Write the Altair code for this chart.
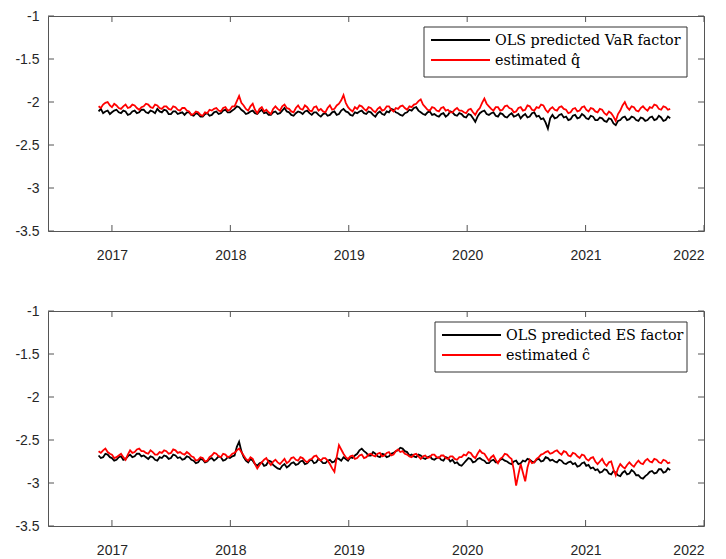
import altair as alt
import pandas as pd

# ---------------- data (weekly) ----------------
START = "2016-11-20"
STEP_DAYS = 7

var_ols = [
    -2.11, -2.08, -2.13, -2.11, -2.10, -2.14, -2.12, -2.10, -2.09, -2.12, -2.13, -2.10, -2.11, -2.15, -2.14, -2.11, -2.10, -2.13, -2.12, -2.09,
    -2.09, -2.12, -2.13, -2.10, -2.11, -2.13, -2.08, -2.11, -2.12, -2.09, -2.10, -2.14, -2.14, -2.11, -2.11, -2.14, -2.13, -2.12, -2.15, -2.12,
    -2.12, -2.15, -2.16, -2.13, -2.14, -2.17, -2.17, -2.14, -2.13, -2.16, -2.15, -2.12, -2.11, -2.14, -2.13, -2.10, -2.09, -2.12, -2.12, -2.10,
    -2.08, -2.05, -2.06, -2.09, -2.11, -2.14, -2.13, -2.11, -2.10, -2.13, -2.14, -2.11, -2.09, -2.13, -2.12, -2.15, -2.15, -2.12, -2.11, -2.14,
    -2.13, -2.10, -2.07, -2.11, -2.12, -2.15, -2.16, -2.13, -2.11, -2.12, -2.14, -2.11, -2.10, -2.13, -2.15, -2.12, -2.12, -2.15, -2.17, -2.14,
    -2.13, -2.16, -2.15, -2.12, -2.11, -2.15, -2.14, -2.10, -2.08, -2.11, -2.12, -2.15, -2.16, -2.12, -2.13, -2.11, -2.10, -2.13, -2.14, -2.11,
    -2.12, -2.15, -2.17, -2.13, -2.11, -2.14, -2.15, -2.11, -2.12, -2.08, -2.09, -2.12, -2.13, -2.15, -2.16, -2.13, -2.12, -2.09, -2.10, -2.07,
    -2.06, -2.10, -2.12, -2.14, -2.15, -2.12, -2.11, -2.15, -2.14, -2.16, -2.17, -2.14, -2.13, -2.17, -2.15, -2.11, -2.12, -2.15, -2.16, -2.13,
    -2.14, -2.17, -2.18, -2.14, -2.15, -2.19, -2.23, -2.17, -2.13, -2.11, -2.10, -2.14, -2.15, -2.13, -2.12, -2.16, -2.17, -2.13, -2.14, -2.17,
    -2.18, -2.15, -2.13, -2.17, -2.16, -2.14, -2.19, -2.16, -2.14, -2.18, -2.17, -2.13, -2.12, -2.17, -2.16, -2.20, -2.19, -2.24, -2.31, -2.19,
    -2.15, -2.19, -2.18, -2.15, -2.14, -2.18, -2.17, -2.21, -2.20, -2.16, -2.15, -2.19, -2.18, -2.14, -2.16, -2.19, -2.20, -2.16, -2.17, -2.21,
    -2.21, -2.18, -2.19, -2.22, -2.23, -2.19, -2.20, -2.25, -2.27, -2.22, -2.21, -2.18, -2.17, -2.21, -2.20, -2.17, -2.18, -2.21, -2.22, -2.18,
    -2.19, -2.22, -2.21, -2.18, -2.17, -2.21, -2.20, -2.16, -2.18, -2.22, -2.21, -2.17, -2.19,
]

q_hat = [
    -2.05, -2.07, -2.03, -2.01, -2.00, -2.04, -2.06, -2.02, -2.04, -2.07, -2.08, -2.05, -2.03, -2.07, -2.06, -2.03, -2.04, -2.07, -2.09, -2.06,
    -2.05, -2.02, -2.03, -2.06, -2.07, -2.03, -2.04, -2.07, -2.08, -2.05, -2.05, -2.08, -2.09, -2.05, -2.06, -2.09, -2.10, -2.07, -2.07, -2.10,
    -2.11, -2.15, -2.14, -2.11, -2.12, -2.15, -2.16, -2.12, -2.13, -2.09, -2.10, -2.08, -2.07, -2.10, -2.11, -2.07, -2.06, -2.10, -2.09, -2.05,
    -2.05, -1.99, -1.93, -2.01, -2.04, -2.08, -2.10, -2.05, -2.02, -2.09, -2.13, -2.08, -2.06, -2.11, -2.09, -2.12, -2.14, -2.08, -2.05, -2.08,
    -2.10, -2.05, -2.03, -2.07, -2.08, -2.11, -2.12, -2.07, -2.04, -2.08, -2.09, -2.04, -2.06, -2.10, -2.11, -2.06, -2.05, -2.10, -2.08, -2.11,
    -2.12, -2.07, -2.04, -2.09, -2.08, -2.04, -2.02, -1.98, -1.92, -2.01, -2.06, -2.09, -2.11, -2.06, -2.08, -2.04, -2.05, -2.08, -2.10, -2.06,
    -2.07, -2.10, -2.12, -2.08, -2.06, -2.10, -2.09, -2.05, -2.05, -2.09, -2.11, -2.07, -2.08, -2.05, -2.04, -2.07, -2.09, -2.05, -2.06, -2.03,
    -2.02, -1.99, -1.97, -2.03, -2.06, -2.09, -2.10, -2.06, -2.07, -2.10, -2.11, -2.07, -2.06, -2.10, -2.09, -2.12, -2.12, -2.09, -2.07, -2.10,
    -2.10, -2.12, -2.13, -2.09, -2.08, -2.12, -2.15, -2.10, -2.07, -2.01, -1.96, -2.02, -2.05, -2.08, -2.10, -2.06, -2.06, -2.10, -2.09, -2.05,
    -2.04, -2.07, -2.08, -2.12, -2.11, -2.07, -2.06, -2.10, -2.09, -2.04, -2.05, -2.09, -2.10, -2.06, -2.07, -2.03, -2.04, -2.09, -2.12, -2.08,
    -2.06, -2.09, -2.10, -2.06, -2.05, -2.08, -2.09, -2.13, -2.12, -2.08, -2.07, -2.11, -2.10, -2.06, -2.05, -2.09, -2.11, -2.07, -2.08, -2.11,
    -2.12, -2.08, -2.09, -2.13, -2.15, -2.11, -2.13, -2.17, -2.22, -2.14, -2.10, -2.04, -2.00, -2.06, -2.09, -2.05, -2.06, -2.10, -2.11, -2.07,
    -2.05, -2.08, -2.10, -2.06, -2.07, -2.03, -2.04, -2.08, -2.09, -2.05, -2.06, -2.09, -2.08,
]

es_ols = [
    -2.68, -2.71, -2.70, -2.66, -2.67, -2.70, -2.71, -2.74, -2.73, -2.70, -2.69, -2.73, -2.72, -2.69, -2.67, -2.70, -2.69, -2.66, -2.66, -2.69,
    -2.68, -2.70, -2.72, -2.69, -2.70, -2.73, -2.74, -2.70, -2.71, -2.68, -2.69, -2.72, -2.71, -2.67, -2.68, -2.71, -2.70, -2.73, -2.72, -2.69,
    -2.70, -2.73, -2.74, -2.77, -2.76, -2.72, -2.73, -2.76, -2.75, -2.72, -2.71, -2.74, -2.72, -2.69, -2.70, -2.74, -2.73, -2.70, -2.71, -2.69,
    -2.68, -2.58, -2.52, -2.63, -2.70, -2.74, -2.76, -2.72, -2.74, -2.78, -2.80, -2.77, -2.76, -2.80, -2.79, -2.74, -2.75, -2.79, -2.81, -2.83,
    -2.84, -2.80, -2.78, -2.82, -2.80, -2.77, -2.76, -2.79, -2.78, -2.75, -2.74, -2.78, -2.77, -2.74, -2.73, -2.77, -2.76, -2.72, -2.74, -2.77,
    -2.77, -2.74, -2.73, -2.76, -2.75, -2.71, -2.72, -2.74, -2.70, -2.72, -2.74, -2.70, -2.71, -2.68, -2.66, -2.62, -2.60, -2.63, -2.65, -2.68,
    -2.68, -2.64, -2.66, -2.69, -2.70, -2.66, -2.67, -2.70, -2.69, -2.66, -2.65, -2.63, -2.62, -2.59, -2.60, -2.63, -2.64, -2.68, -2.67, -2.69,
    -2.70, -2.67, -2.68, -2.71, -2.72, -2.70, -2.69, -2.72, -2.73, -2.71, -2.70, -2.73, -2.74, -2.70, -2.71, -2.75, -2.73, -2.77, -2.76, -2.79,
    -2.80, -2.77, -2.74, -2.71, -2.72, -2.76, -2.75, -2.72, -2.71, -2.73, -2.74, -2.77, -2.77, -2.74, -2.73, -2.76, -2.76, -2.73, -2.72, -2.74,
    -2.75, -2.77, -2.78, -2.75, -2.74, -2.78, -2.77, -2.74, -2.75, -2.72, -2.73, -2.75, -2.76, -2.73, -2.72, -2.75, -2.74, -2.70, -2.71, -2.74,
    -2.73, -2.75, -2.76, -2.73, -2.74, -2.77, -2.78, -2.76, -2.75, -2.78, -2.77, -2.81, -2.80, -2.77, -2.76, -2.80, -2.79, -2.83, -2.82, -2.85,
    -2.84, -2.88, -2.87, -2.84, -2.85, -2.89, -2.90, -2.86, -2.88, -2.91, -2.92, -2.88, -2.86, -2.90, -2.89, -2.85, -2.87, -2.91, -2.91, -2.94,
    -2.95, -2.92, -2.90, -2.87, -2.86, -2.89, -2.88, -2.84, -2.84, -2.88, -2.87, -2.83, -2.85,
]

c_hat = [
    -2.63, -2.65, -2.62, -2.60, -2.64, -2.66, -2.67, -2.71, -2.70, -2.68, -2.66, -2.70, -2.73, -2.67, -2.62, -2.65, -2.64, -2.61, -2.60, -2.63,
    -2.63, -2.65, -2.66, -2.62, -2.64, -2.67, -2.67, -2.64, -2.65, -2.62, -2.63, -2.66, -2.65, -2.61, -2.62, -2.65, -2.64, -2.66, -2.67, -2.64,
    -2.66, -2.69, -2.70, -2.74, -2.73, -2.70, -2.71, -2.75, -2.74, -2.70, -2.68, -2.65, -2.66, -2.69, -2.70, -2.66, -2.67, -2.70, -2.69, -2.66,
    -2.65, -2.62, -2.60, -2.64, -2.68, -2.72, -2.74, -2.70, -2.72, -2.78, -2.83, -2.79, -2.76, -2.73, -2.71, -2.76, -2.79, -2.75, -2.73, -2.76,
    -2.78, -2.75, -2.72, -2.77, -2.75, -2.71, -2.70, -2.73, -2.74, -2.70, -2.71, -2.74, -2.76, -2.73, -2.72, -2.69, -2.68, -2.72, -2.74, -2.71,
    -2.71, -2.74, -2.78, -2.83, -2.87, -2.70, -2.56, -2.61, -2.66, -2.70, -2.72, -2.69, -2.68, -2.72, -2.71, -2.68, -2.67, -2.71, -2.70, -2.67,
    -2.66, -2.68, -2.69, -2.66, -2.65, -2.69, -2.68, -2.65, -2.64, -2.68, -2.67, -2.63, -2.61, -2.64, -2.63, -2.66, -2.67, -2.69, -2.70, -2.67,
    -2.66, -2.69, -2.72, -2.69, -2.68, -2.71, -2.70, -2.67, -2.67, -2.70, -2.71, -2.68, -2.68, -2.71, -2.72, -2.69, -2.69, -2.72, -2.73, -2.70,
    -2.70, -2.67, -2.68, -2.64, -2.65, -2.69, -2.71, -2.66, -2.62, -2.65, -2.66, -2.70, -2.74, -2.70, -2.68, -2.73, -2.77, -2.72, -2.70, -2.66,
    -2.67, -2.70, -2.72, -2.85, -3.03, -2.90, -2.78, -2.88, -2.98, -2.82, -2.73, -2.77, -2.76, -2.72, -2.70, -2.67, -2.66, -2.64, -2.63, -2.66,
    -2.65, -2.63, -2.62, -2.65, -2.67, -2.63, -2.64, -2.68, -2.69, -2.65, -2.66, -2.69, -2.71, -2.67, -2.68, -2.72, -2.74, -2.71, -2.70, -2.75,
    -2.78, -2.75, -2.72, -2.77, -2.80, -2.76, -2.75, -2.84, -2.91, -2.83, -2.78, -2.81, -2.83, -2.79, -2.76, -2.79, -2.81, -2.77, -2.74, -2.77,
    -2.78, -2.74, -2.72, -2.75, -2.76, -2.72, -2.73, -2.76, -2.77, -2.73, -2.74, -2.77, -2.76,
]

x_ticks = [2017, 2018, 2019, 2020, 2021, 2022]
y_ticks = [-3.5, -3, -2.5, -2, -1.5, -1]
x_domain = [2016.46, 2022.0]
y_domain = [-3.5, -1.0]

labels_top = ["OLS predicted VaR factor", "estimated q\u0302"]
labels_bot = ["OLS predicted ES factor", "estimated \u0109"]
colors = ["#000000", "#ff0000"]

# ---------------- build ----------------
dates = pd.date_range(START, periods=len(var_ols), freq=f"{STEP_DAYS}D")
t = [round(d.year + (d.dayofyear - 1) / 365.25, 5) for d in dates]

W, H = 656, 215
AX = "#555555"
TXT = "#262626"
TICK = 6


def legend_layers(labels, box_left):
    # legend drawn inside the plot area (top-right), like MATLAB's
    rows = [24, 44]
    line_l = box_left + 7
    line_r = line_l + 59
    text_x = line_r + 5
    lyr = [
        alt.Chart(pd.DataFrame({"k": [0]})).mark_rect(
            fill="#ffffff", stroke="#333333", strokeWidth=1).encode(
            x=alt.value(box_left), x2=alt.value(W - 17),
            y=alt.value(11), y2=alt.value(61)),
    ]
    for lab, col, ry in zip(labels, colors, rows):
        d = pd.DataFrame({"label": [lab]})
        lyr.append(alt.Chart(d).mark_rule(color=col, strokeWidth=2).encode(
            x=alt.value(line_l), x2=alt.value(line_r), y=alt.value(ry)))
        lyr.append(alt.Chart(d).mark_text(
            align="left", baseline="middle", font="DejaVu Serif",
            fontSize=14.3, color="#000000").encode(
            x=alt.value(text_x), y=alt.value(ry + 1), text="label:N"))
    return lyr


def panel(black, red, labels, box_left):
    n = len(black)
    df = pd.DataFrame({
        "x": t + t,
        "y": black + red,
        "series": [labels[0]] * n + [labels[1]] * n,
    })
    xenc = alt.X(
        "x:Q",
        scale=alt.Scale(domain=x_domain, nice=False, zero=False),
        axis=alt.Axis(values=x_ticks, format="d", title=None, domain=False,
                      ticks=False, grid=False, labelPadding=17,
                      labelFont="Liberation Sans", labelFontSize=14,
                      labelColor=TXT),
    )
    yenc = alt.Y(
        "y:Q",
        scale=alt.Scale(domain=y_domain, nice=False, zero=False),
        axis=alt.Axis(values=y_ticks, labelExpr="'' + datum.value",
                      title=None, domain=False, ticks=False, grid=False,
                      labelPadding=9, labelFont="Liberation Sans",
                      labelFontSize=14, labelColor=TXT),
    )
    color = alt.Color(
        "series:N",
        scale=alt.Scale(domain=labels, range=colors),
        legend=None,
    )
    base = alt.Chart(df)
    blk = base.transform_filter(alt.datum.series == labels[0]).mark_line(
        strokeWidth=1.8, clip=True).encode(x=xenc, y=yenc, color=color)
    rd = base.transform_filter(alt.datum.series == labels[1]).mark_line(
        strokeWidth=1.8, clip=True).encode(x=xenc, y=yenc, color=color)

    xt_df = pd.DataFrame({"x": x_ticks})
    yt_df = pd.DataFrame({"y": y_ticks})
    xb = alt.Chart(xt_df).mark_rule(color=AX, strokeWidth=1).encode(
        x="x:Q", y=alt.value(H), y2=alt.value(H - TICK))
    xtp = alt.Chart(xt_df).mark_rule(color=AX, strokeWidth=1).encode(
        x="x:Q", y=alt.value(0), y2=alt.value(TICK))
    yl = alt.Chart(yt_df).mark_rule(color=AX, strokeWidth=1).encode(
        y="y:Q", x=alt.value(0), x2=alt.value(TICK))
    yr = alt.Chart(yt_df).mark_rule(color=AX, strokeWidth=1).encode(
        y="y:Q", x=alt.value(W), x2=alt.value(W - TICK))

    return alt.layer(blk, rd, xb, xtp, yl, yr,
                     *legend_layers(labels, box_left)).properties(width=W, height=H)


chart = (
    alt.vconcat(panel(var_ols, q_hat, labels_top, 376),
                panel(es_ols, c_hat, labels_bot, 387), spacing=40)
    .resolve_scale(color="independent")
    .properties(padding={"left": 6, "top": 0, "right": 0, "bottom": 0},
                background="#ffffff")
    .configure_view(stroke=AX, strokeWidth=1)
)

chart.save("out.html", embed_options={"renderer": "svg", "actions": False})
